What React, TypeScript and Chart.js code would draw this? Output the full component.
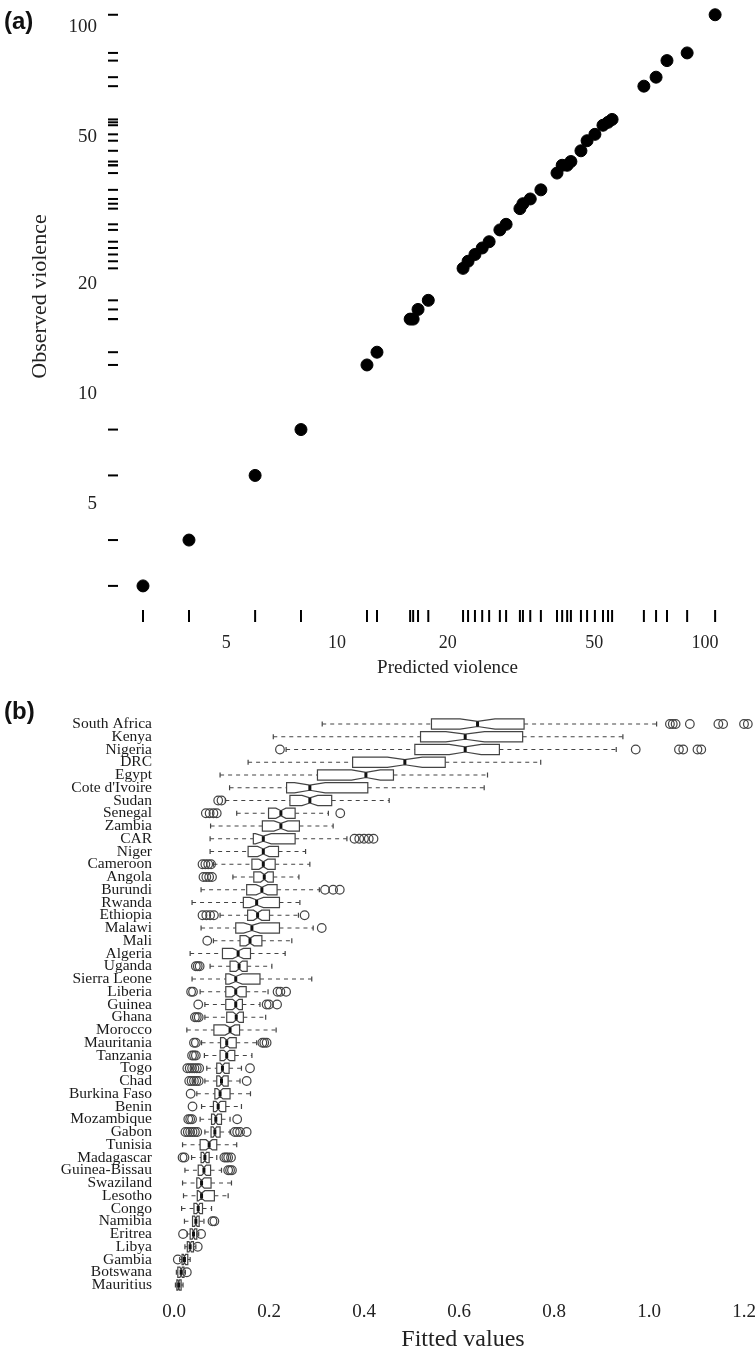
import React, { useEffect, useRef } from "react";
import { Chart, registerables } from "chart.js";
Chart.register(...registerables);

const SERIF = "'Liberation Serif', 'Times New Roman', serif";
const SANS = "'Liberation Sans', Arial, sans-serif";

// ---------- Panel (a): observed vs predicted violence ----------
const predicted = [2.97, 3.96, 5.99, 7.98, 12.06, 12.84, 15.8, 16.1, 16.6, 17.7, 22.0, 22.7, 23.7, 24.8, 25.9, 27.7, 28.8, 31.4, 32.0, 33.5, 35.8, 39.6, 40.9, 42.2, 43.2, 46.0, 47.8, 50.2, 52.8, 54.5, 55.9, 68.2, 73.6, 78.8, 89.4, 106.5];
const observed = [3, 4, 6, 8, 12, 13, 16, 16, 17, 18, 22, 23, 24, 25, 26, 28, 29, 32, 33, 34, 36, 40, 42, 42, 43, 46, 49, 51, 54, 55, 56, 69, 73, 81, 85, 108];
const logTicks = [5, 10, 20, 50, 100];
const xRangeA = [2.572, 154.9];
const yRangeA = [2.746, 123.8];

// ---------- Panel (b): fitted values by country ----------
const countries = ["South Africa", "Kenya", "Nigeria", "DRC", "Egypt", "Cote d'Ivoire", "Sudan", "Senegal", "Zambia", "CAR", "Niger", "Cameroon", "Angola", "Burundi", "Rwanda", "Ethiopia", "Malawi", "Mali", "Algeria", "Uganda", "Sierra Leone", "Liberia", "Guinea", "Ghana", "Morocco", "Mauritania", "Tanzania", "Togo", "Chad", "Burkina Faso", "Benin", "Mozambique", "Gabon", "Tunisia", "Madagascar", "Guinea-Bissau", "Swaziland", "Lesotho", "Congo", "Namibia", "Eritrea", "Libya", "Gambia", "Botswana", "Mauritius"];
const whiskerLow = [0.312, 0.209, 0.236, 0.156, 0.097, 0.117, 0.108, 0.132, 0.077, 0.076, 0.076, 0.083, 0.124, 0.057, 0.038, 0.097, 0.057, 0.083, 0.034, 0.076, 0.038, 0.055, 0.065, 0.065, 0.027, 0.058, 0.064, 0.069, 0.065, 0.048, 0.058, 0.055, 0.065, 0.018, 0.037, 0.023, 0.018, 0.02, 0.016, 0.022, 0.028, 0.023, 0.012, 0.005, 0.003];
const quartile1 = [0.542, 0.519, 0.507, 0.376, 0.302, 0.237, 0.244, 0.199, 0.186, 0.167, 0.156, 0.164, 0.168, 0.153, 0.146, 0.155, 0.13, 0.139, 0.102, 0.118, 0.109, 0.109, 0.109, 0.111, 0.084, 0.098, 0.097, 0.09, 0.09, 0.086, 0.083, 0.079, 0.078, 0.055, 0.057, 0.051, 0.048, 0.049, 0.042, 0.039, 0.034, 0.028, 0.017, 0.008, 0.006];
const medians = [0.639, 0.613, 0.613, 0.486, 0.404, 0.286, 0.286, 0.225, 0.225, 0.188, 0.188, 0.188, 0.19, 0.185, 0.174, 0.176, 0.164, 0.16, 0.135, 0.137, 0.13, 0.13, 0.13, 0.131, 0.118, 0.111, 0.111, 0.102, 0.1, 0.097, 0.093, 0.088, 0.086, 0.074, 0.065, 0.063, 0.058, 0.058, 0.051, 0.046, 0.041, 0.034, 0.022, 0.015, 0.01];
const quartile3 = [0.737, 0.734, 0.685, 0.571, 0.462, 0.408, 0.332, 0.255, 0.264, 0.255, 0.22, 0.213, 0.209, 0.217, 0.222, 0.201, 0.222, 0.185, 0.161, 0.154, 0.181, 0.152, 0.144, 0.146, 0.138, 0.131, 0.128, 0.116, 0.114, 0.118, 0.109, 0.1, 0.097, 0.09, 0.074, 0.077, 0.078, 0.085, 0.06, 0.053, 0.048, 0.041, 0.029, 0.021, 0.015];
const whiskerHigh = [1.016, 0.945, 0.931, 0.772, 0.66, 0.653, 0.453, 0.325, 0.335, 0.364, 0.277, 0.286, 0.263, 0.306, 0.265, 0.262, 0.293, 0.248, 0.234, 0.206, 0.29, 0.198, 0.181, 0.193, 0.215, 0.174, 0.164, 0.142, 0.139, 0.161, 0.142, 0.118, 0.118, 0.132, 0.09, 0.1, 0.121, 0.114, 0.079, 0.063, 0.052, 0.046, 0.034, 0.024, 0.019];
const outliers: number[][] = [
  [1.044, 1.05, 1.056, 1.086, 1.146, 1.156, 1.2, 1.208],
  [],
  [0.223, 0.972, 1.063, 1.072, 1.102, 1.11],
  [],
  [],
  [],
  [0.093, 0.1],
  [0.067, 0.075, 0.083, 0.09, 0.35],
  [],
  [0.38, 0.39, 0.4, 0.41, 0.42],
  [],
  [0.06, 0.066, 0.072, 0.078],
  [0.062, 0.068, 0.074, 0.08],
  [0.318, 0.335, 0.349],
  [],
  [0.06, 0.068, 0.076, 0.084, 0.275],
  [0.311],
  [0.07],
  [],
  [0.046, 0.05, 0.054],
  [],
  [0.036, 0.04, 0.218, 0.224, 0.236],
  [0.051, 0.195, 0.2, 0.217],
  [0.044, 0.048, 0.052],
  [],
  [0.042, 0.046, 0.186, 0.19, 0.195],
  [0.038, 0.042, 0.046],
  [0.028, 0.033, 0.038, 0.043, 0.048, 0.053, 0.16],
  [0.032, 0.037, 0.042, 0.047, 0.052, 0.153],
  [0.035],
  [0.039],
  [0.03, 0.034, 0.038, 0.133],
  [0.024, 0.029, 0.034, 0.039, 0.044, 0.049, 0.128, 0.133, 0.139, 0.153],
  [],
  [0.018, 0.022, 0.106, 0.11, 0.114, 0.12],
  [0.114, 0.118, 0.122],
  [],
  [],
  [],
  [0.081, 0.085],
  [0.019, 0.057],
  [0.05],
  [0.008],
  [0.027],
  [],
];
const fittedTicks = [0, 0.2, 0.4, 0.6, 0.8, 1.0, 1.2];
const xRangeB = [-0.0379, 1.2547];
const notchSampleSize = 70;

const fixAxis = (width: number | null, height: number | null) => (s: any) => {
  if (width !== null) s.width = width;
  if (height !== null) s.height = height;
  s.paddingLeft = 0;
  s.paddingRight = 0;
  s.paddingTop = 0;
  s.paddingBottom = 0;
};

const rugPlugin = {
  id: "rug",
  afterDatasetsDraw(chart: any) {
    const { ctx, chartArea, scales } = chart;
    ctx.save();
    ctx.strokeStyle = "#000";
    ctx.lineWidth = 2;
    predicted.forEach((v) => {
      const px = scales.x.getPixelForValue(v);
      ctx.beginPath();
      ctx.moveTo(px, chartArea.bottom + 10);
      ctx.lineTo(px, chartArea.bottom + 22);
      ctx.stroke();
    });
    observed.forEach((v) => {
      const py = scales.y.getPixelForValue(v);
      ctx.beginPath();
      ctx.moveTo(chartArea.left - 12, py);
      ctx.lineTo(chartArea.left - 2, py);
      ctx.stroke();
    });
    ctx.restore();
  },
};

const boxPlugin = {
  id: "notchedBoxes",
  beforeDatasetsDraw(chart: any) {
    const { ctx, scales } = chart;
    const x = scales.x;
    const y = scales.y;
    const rowH = Math.abs(y.getPixelForValue(1) - y.getPixelForValue(0));
    const half = rowH * 0.4;
    ctx.save();
    countries.forEach((_, i) => {
      const yc = y.getPixelForValue(i);
      const q1 = x.getPixelForValue(quartile1[i]);
      const q3 = x.getPixelForValue(quartile3[i]);
      const m = x.getPixelForValue(medians[i]);
      const wl = x.getPixelForValue(whiskerLow[i]);
      const wh = x.getPixelForValue(whiskerHigh[i]);
      const notch = (1.58 * (quartile3[i] - quartile1[i])) / Math.sqrt(notchSampleSize);
      const nl = Math.max(q1, x.getPixelForValue(medians[i] - notch));
      const nr = Math.min(q3, x.getPixelForValue(medians[i] + notch));
      const top = yc - half;
      const bot = yc + half;
      // whiskers
      ctx.strokeStyle = "#444";
      ctx.lineWidth = 1.2;
      ctx.setLineDash([4, 4]);
      ctx.beginPath();
      ctx.moveTo(wl, yc);
      ctx.lineTo(q1, yc);
      ctx.moveTo(q3, yc);
      ctx.lineTo(wh, yc);
      ctx.stroke();
      ctx.setLineDash([]);
      // staples
      ctx.beginPath();
      ctx.moveTo(wl, yc - half / 2);
      ctx.lineTo(wl, yc + half / 2);
      ctx.moveTo(wh, yc - half / 2);
      ctx.lineTo(wh, yc + half / 2);
      ctx.stroke();
      // notched box
      ctx.beginPath();
      ctx.moveTo(q1, top);
      ctx.lineTo(nl, top);
      ctx.lineTo(m, yc - half / 2);
      ctx.lineTo(nr, top);
      ctx.lineTo(q3, top);
      ctx.lineTo(q3, bot);
      ctx.lineTo(nr, bot);
      ctx.lineTo(m, yc + half / 2);
      ctx.lineTo(nl, bot);
      ctx.lineTo(q1, bot);
      ctx.closePath();
      ctx.fillStyle = "#fff";
      ctx.fill();
      ctx.strokeStyle = "#444";
      ctx.stroke();
      // median
      ctx.strokeStyle = "#111";
      ctx.lineWidth = 3;
      ctx.beginPath();
      ctx.moveTo(m, yc - half / 2);
      ctx.lineTo(m, yc + half / 2);
      ctx.stroke();
    });
    ctx.restore();
  },
};

export default function App() {
  const refA = useRef<HTMLCanvasElement>(null);
  const refB = useRef<HTMLCanvasElement>(null);

  useEffect(() => {
    const chartA = new Chart(refA.current as HTMLCanvasElement, {
      type: "scatter",
      data: {
        datasets: [
          {
            data: predicted.map((p, i) => ({ x: p, y: observed[i] })),
            backgroundColor: "#000",
            borderColor: "#000",
            pointRadius: 6,
            pointHoverRadius: 6,
          },
        ],
      },
      plugins: [rugPlugin],
      options: {
        responsive: false,
        animation: false,
        layout: { padding: { top: 13, right: 15, left: 0, bottom: 0 } },
        plugins: { legend: { display: false }, tooltip: { enabled: false } },
        scales: {
          x: {
            type: "logarithmic",
            min: xRangeA[0],
            max: xRangeA[1],
            grid: { display: false, drawTicks: false },
            border: { display: false },
            afterBuildTicks: (s: any) => {
              s.ticks = logTicks.map((v) => ({ value: v }));
            },
            afterFit: fixAxis(null, 90),
            ticks: {
              autoSkip: false,
              maxRotation: 0,
              padding: 32,
              color: "#222",
              font: { family: SERIF, size: 18 },
              callback: (v: any) => String(v),
            },
            title: {
              display: true,
              text: "Predicted violence",
              color: "#222",
              font: { family: SERIF, size: 19 },
              padding: { top: 0, bottom: 11 },
            },
          },
          y: {
            type: "logarithmic",
            min: yRangeA[0],
            max: yRangeA[1],
            grid: { display: false, drawTicks: false },
            border: { display: false },
            afterBuildTicks: (s: any) => {
              s.ticks = logTicks.map((v) => ({ value: v }));
            },
            afterFit: fixAxis(120, null),
            ticks: {
              autoSkip: false,
              padding: 23,
              color: "#222",
              font: { family: SERIF, size: 19 },
              callback: (v: any) => String(v),
            },
            title: {
              display: true,
              text: "Observed violence",
              color: "#222",
              font: { family: SERIF, size: 22 },
              padding: { top: 27, bottom: 0 },
            },
          },
        },
      },
    } as any);

    const outlierPoints: { x: number; y: string }[] = [];
    outliers.forEach((list, i) => list.forEach((v) => outlierPoints.push({ x: v, y: countries[i] })));

    const chartB = new Chart(refB.current as HTMLCanvasElement, {
      type: "scatter",
      data: {
        labels: countries,
        datasets: [
          {
            data: outlierPoints,
            backgroundColor: "rgba(0,0,0,0)",
            borderColor: "#444",
            borderWidth: 1.2,
            pointRadius: 4.3,
            pointHoverRadius: 4.3,
          },
        ],
      },
      plugins: [boxPlugin],
      options: {
        responsive: false,
        animation: false,
        layout: { padding: { top: 27.6, right: 20, left: 0, bottom: 0 } },
        plugins: { legend: { display: false }, tooltip: { enabled: false } },
        scales: {
          x: {
            type: "linear",
            min: xRangeB[0],
            max: xRangeB[1],
            grid: { display: false, drawTicks: false },
            border: { display: false },
            afterBuildTicks: (s: any) => {
              s.ticks = fittedTicks.map((v) => ({ value: v }));
            },
            afterFit: fixAxis(null, 66.6),
            ticks: {
              autoSkip: false,
              maxRotation: 0,
              padding: 9,
              color: "#222",
              font: { family: SERIF, size: 19 },
              callback: (v: any) => Number(v).toFixed(1),
            },
            title: {
              display: true,
              text: "Fitted values",
              color: "#222",
              font: { family: SERIF, size: 24 },
              padding: { top: 0, bottom: 4 },
            },
          },
          y: {
            type: "category",
            labels: countries,
            offset: true,
            grid: { display: false, drawTicks: false },
            border: { display: false },
            afterFit: fixAxis(156, null),
            ticks: {
              autoSkip: false,
              padding: 4,
              color: "#1a1a1a",
              font: { family: SERIF, size: 15.5 },
            },
          },
        },
      },
    } as any);

    return () => {
      chartA.destroy();
      chartB.destroy();
    };
  }, []);

  return (
    <div style={{ position: "absolute", left: 0, top: 0, width: 755, height: 1358, overflow: "hidden", background: "#fff" }}>
      <canvas ref={refA} width={790} height={710} style={{ position: "absolute", left: 0, top: -20 }} />
      <canvas ref={refB} width={790} height={668} style={{ position: "absolute", left: 0, top: 690 }} />
      <div style={{ position: "absolute", left: 4, top: 8, font: `bold 24px ${SANS}`, lineHeight: "26px", color: "#111" }}>(a)</div>
      <div style={{ position: "absolute", left: 4, top: 698, font: `bold 24px ${SANS}`, lineHeight: "26px", color: "#111" }}>(b)</div>
    </div>
  );
}
